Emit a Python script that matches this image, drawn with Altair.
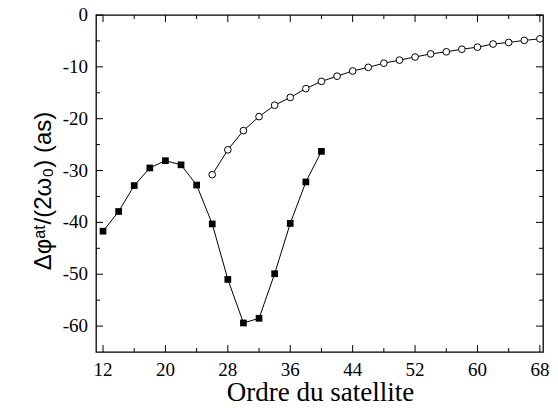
import altair as alt
import pandas as pd

# Filled squares: orders 12..40
sq_order = [12, 14, 16, 18, 20, 22, 24, 26, 28, 30, 32, 34, 36, 38, 40]
sq_value = [-41.7, -37.9, -32.9, -29.5, -28.1, -28.9, -32.8, -40.3, -51.0, -59.4, -58.5, -49.9, -40.2, -32.2, -26.3]

# Open circles: orders 26..68
ci_order = [26, 28, 30, 32, 34, 36, 38, 40, 42, 44, 46, 48, 50, 52, 54, 56, 58, 60, 62, 64, 66, 68]
ci_value = [-30.8, -26.0, -22.3, -19.6, -17.4, -15.9, -14.2, -12.8, -11.8, -10.8, -10.1, -9.3,
            -8.7, -8.1, -7.5, -7.1, -6.6, -6.2, -5.6, -5.3, -4.9, -4.6]

x_major = [12, 20, 28, 36, 44, 52, 60, 68]
x_labels = ["12", "20", "28", "36", "44", "52", "60", "68"]
x_minor = [16, 24, 32, 40, 48, 56, 64]
y_major = [0, -10, -20, -30, -40, -50, -60]
y_labels = ["0", "-10", "-20", "-30", "-40", "-50", "-60"]
y_minor = [-5, -15, -25, -35, -45, -55]

x_title = "Ordre du satellite"
y_title = "Δφᵃᵗ/(2ω₀) (as)"

XDOM = [11.1, 68.4]
YDOM = [-65, 0]
LEFT, TOP = 88, 7
W, H = 447, 337
MAJ, MIN = 7, 4  # tick lengths in pixels

serif = "Liberation Serif"
sans = "Liberation Sans"

dx_per_px = (XDOM[1] - XDOM[0]) / W
dy_per_px = (YDOM[1] - YDOM[0]) / H

df_sq = pd.DataFrame({"x": sq_order, "y": sq_value})
df_ci = pd.DataFrame({"x": ci_order, "y": ci_value})

# one line table: the two series plus the inward tick segments of the box
rows = []
for xv, yv in zip(sq_order, sq_value):
    rows.append({"g": "sq", "o": xv, "x": xv, "y": yv})
for xv, yv in zip(ci_order, ci_value):
    rows.append({"g": "ci", "o": xv, "x": xv, "y": yv})
k = 0
for vals, ln in ((x_major, MAJ), (x_minor, MIN)):
    for v in vals:
        for (y0, y1) in ((YDOM[0], YDOM[0] + ln * dy_per_px), (YDOM[1], YDOM[1] - ln * dy_per_px)):
            rows += [{"g": f"t{k}", "o": 0, "x": v, "y": y0}, {"g": f"t{k}", "o": 1, "x": v, "y": y1}]
            k += 1
for vals, ln in ((y_major, MAJ), (y_minor, MIN)):
    for v in vals:
        for (x0, x1) in ((XDOM[0], XDOM[0] + ln * dx_per_px), (XDOM[1], XDOM[1] - ln * dx_per_px)):
            rows += [{"g": f"t{k}", "o": 0, "x": x0, "y": v}, {"g": f"t{k}", "o": 1, "x": x1, "y": v}]
            k += 1
df_lines = pd.DataFrame(rows)


def X(field):
    return alt.X(field, scale=alt.Scale(domain=XDOM, nice=False, zero=False), axis=None)


def Y(field):
    return alt.Y(field, scale=alt.Scale(domain=YDOM, nice=False, zero=False), axis=None)


lines = alt.Chart(df_lines).mark_line(color="black", strokeWidth=1).encode(
    x=X("x:Q"), y=Y("y:Q"), detail="g:N", order="o:Q")
pts_sq = alt.Chart(df_sq).mark_square(color="black", opacity=1, size=45).encode(
    x=X("x:Q"), y=Y("y:Q"))
pts_ci = alt.Chart(df_ci).mark_point(shape="circle", filled=True, fill="white",
                                     stroke="black", strokeWidth=1, opacity=1,
                                     size=45).encode(x=X("x:Q"), y=Y("y:Q"))

# tick labels
xlab = alt.Chart(pd.DataFrame({"xv": x_major, "t": x_labels})).mark_text(
    font=serif, fontSize=19, color="black", align="center", baseline="alphabetic"
).encode(x=X("xv:Q"), y=alt.value(H + 24), text="t:N")

ylab = alt.Chart(pd.DataFrame({"yv": y_major, "t": y_labels})).mark_text(
    font=serif, fontSize=19, color="black", align="right", baseline="middle"
).encode(y=Y("yv:Q"), x=alt.value(-8), text="t:N")

# axis titles
xtit = alt.Chart(pd.DataFrame({"t": [x_title]})).mark_text(
    font=serif, fontSize=27, color="black", align="center", baseline="alphabetic"
).encode(x=alt.value(W / 2 + 1), y=alt.value(H + 49), text="t:N")

ytit = alt.Chart(pd.DataFrame({"t": [y_title]})).mark_text(
    font=sans, fontSize=24, color="black", align="center", baseline="middle", angle=270
).encode(x=alt.value(-52), y=alt.value(176), text="t:N")

chart = alt.layer(lines, pts_sq, pts_ci, xlab, ylab, xtit, ytit).properties(
    width=W, height=H,
    autosize=alt.AutoSizeParams(type="none"),
    padding={"left": LEFT, "top": TOP, "right": 7, "bottom": 56},
    background="white",
).configure_view(stroke="black", strokeWidth=1.3)

chart.save("out.html", embed_options={"renderer": "svg", "actions": False})
